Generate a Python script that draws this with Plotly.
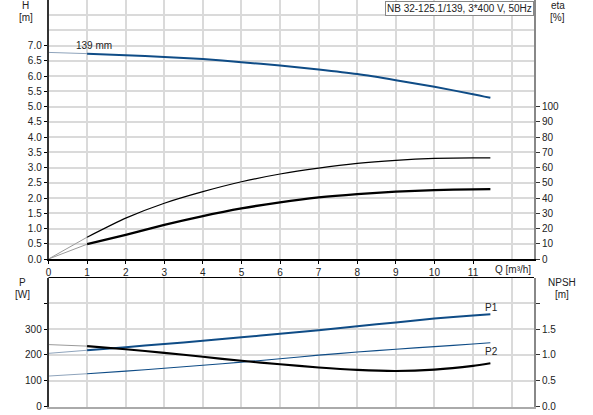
import plotly.graph_objects as go

W, H_PX = 593, 415

# ---------------- data ----------------
Q = [0, 1, 2, 3, 4, 5, 6, 7, 8, 9, 10, 11, 11.45]
H_head = [6.78, 6.74, 6.69, 6.63, 6.56, 6.46, 6.35, 6.22, 6.07, 5.87, 5.65, 5.41, 5.29]
eta_total = [0, 14.3, 26.8, 36.6, 44.2, 50.7, 55.8, 59.7, 62.8, 64.8, 66.0, 66.4, 66.4]
eta_pump = [0, 9.7, 15.8, 22.4, 28.2, 33.2, 37.2, 40.4, 42.6, 44.2, 45.2, 45.7, 45.8]
P1 = [206, 218, 230, 242, 255, 268, 282, 296, 311, 326, 341, 353, 358]
P2 = [118, 127, 137, 148, 160, 172, 185, 199, 211, 222, 232, 242, 247]
NPSH = [1.20, 1.17, 1.11, 1.04, 0.963, 0.885, 0.818, 0.757, 0.71, 0.688, 0.715, 0.788, 0.837]

x_ticks = list(range(0, 12))
H_ticks = [i * 0.5 for i in range(15)]
eta_ticks = list(range(0, 101, 10))
P_ticks = [0, 100, 200, 300, 400]
P_labels = ["0", "100", "200", "300", ""]
NPSH_ticks = [0, 0.5, 1.0, 1.5, 2.0]
NPSH_labels = ["0.0", "0.5", "1.0", "1.5", ""]

title_text = "NB 32-125.1/139, 3*400 V, 50Hz"
curve_label = "139 mm"

BLUE = "#0f4c86"
BLUE_LIGHT = "#8ea3bb"
BLACK = "#000000"
GREY_LIGHT = "#9a9a9a"
GRID = "#dadada"
TXT = "#222222"
FONT = "Liberation Sans, Arial, sans-serif"


def px(x):
    return x / W


def py(y):
    return 1 - y / H_PX


fig = go.Figure()


def add_curve(y, color, light, width, xa, ya):
    # faint start segment, then main segment
    fig.add_trace(go.Scatter(x=Q[:2], y=y[:2], mode="lines",
                             line=dict(color=light, width=1), xaxis=xa, yaxis=ya,
                             hoverinfo="skip", showlegend=False))
    fig.add_trace(go.Scatter(x=Q[1:], y=y[1:], mode="lines",
                             line=dict(color=color, width=width, shape="spline", smoothing=0.6),
                             xaxis=xa, yaxis=ya, showlegend=False))


add_curve(H_head, BLUE, BLUE_LIGHT, 2.0, "x", "y")
add_curve(eta_total, BLACK, GREY_LIGHT, 1.2, "x", "y2")
add_curve(eta_pump, BLACK, GREY_LIGHT, 2.3, "x", "y2")
add_curve(P1, BLUE, BLUE_LIGHT, 2.0, "x2", "y3")
add_curve(P2, BLUE, BLUE_LIGHT, 1.1, "x2", "y3")
add_curve(NPSH, BLACK, GREY_LIGHT, 2.1, "x2", "y4")

x_dom = [px(48.5), px(534)]
x_range = [0, 12.58]
top_dom = [py(259), 1.0]
bot_dom = [py(406.5), py(277.5)]

tickfont = dict(family=FONT, size=10, color=TXT)

fig.update_layout(
    width=W, height=H_PX,
    margin=dict(l=0, r=0, t=0, b=0, autoexpand=False),
    paper_bgcolor="white", plot_bgcolor="white",
    font=dict(family=FONT, size=10, color=TXT),
    showlegend=False,
    xaxis=dict(domain=x_dom, range=x_range, anchor="y", automargin=False,
               tickmode="array", tickvals=x_ticks, ticktext=[str(v) for v in x_ticks],
               ticks="outside", ticklen=3, tickcolor="#000", tickfont=tickfont,
               showgrid=True, gridcolor=GRID, gridwidth=2,
               minor=dict(tickvals=[12], showgrid=True, gridcolor=GRID, gridwidth=2, ticks=""),
               showline=True, linecolor="#000", linewidth=1.5, zeroline=False),
    yaxis=dict(domain=top_dom, range=[0, 8.5], anchor="x", automargin=False,
               tickmode="array", tickvals=H_ticks, ticktext=[f"{v:.1f}" for v in H_ticks],
               ticks="outside", ticklen=3, tickcolor="#000", tickfont=tickfont,
               showgrid=True, gridcolor=GRID, gridwidth=2,
               minor=dict(tickvals=[7.5, 8.0], showgrid=True, gridcolor=GRID, gridwidth=2, ticks=""),
               showline=True, linecolor="#333", linewidth=1.5, zeroline=False),
    yaxis2=dict(range=[0, 170], overlaying="y", side="right", anchor="x", automargin=False,
                tickmode="array", tickvals=eta_ticks, ticktext=[str(v) for v in eta_ticks],
                ticks="outside", ticklen=4, tickcolor="#333", tickfont=tickfont,
                showgrid=False, showline=True, linecolor="#888", linewidth=2, zeroline=False),
    xaxis2=dict(domain=x_dom, range=x_range, anchor="y3", automargin=False,
                tickmode="array", tickvals=x_ticks + [12], showticklabels=False, ticks="",
                showgrid=True, gridcolor=GRID, gridwidth=2,
                showline=True, linecolor="#aaaaaa", linewidth=2, zeroline=False),
    yaxis3=dict(domain=bot_dom, range=[0, 500], anchor="x2", automargin=False,
                tickmode="array", tickvals=P_ticks, ticktext=P_labels,
                ticks="outside", ticklen=3, tickcolor="#000", tickfont=tickfont,
                showgrid=True, gridcolor=GRID, gridwidth=2,
                showline=True, linecolor="#333", linewidth=1.5, zeroline=False),
    yaxis4=dict(range=[0, 2.5], overlaying="y3", side="right", anchor="x2", automargin=False,
                tickmode="array", tickvals=NPSH_ticks, ticktext=NPSH_labels,
                ticks="outside", ticklen=4, tickcolor="#333", tickfont=tickfont,
                showgrid=False, showline=True, linecolor="#888", linewidth=2, zeroline=False),
)

# top border of the lower panel
fig.add_shape(type="line", xref="paper", yref="paper",
              x0=x_dom[0], x1=x_dom[1], y0=bot_dom[1], y1=bot_dom[1],
              line=dict(color="#000", width=1))


def label(text, x, y, xanchor="center", **kw):
    fig.add_annotation(text=text, x=px(x), y=py(y), xref="paper", yref="paper",
                       xanchor=xanchor, yanchor="middle", showarrow=False,
                       font=dict(family=FONT, size=10, color=TXT), **kw)


label("H", 25.5, 5)
label("[m]", 25.5, 17)
label("eta", 557.5, 5)
label("[%]", 557.5, 17)
label("P", 22, 282)
label("[W]", 22, 294)
label("NPSH", 562, 282)
label("[m]", 562, 294)
label("Q [m³/h]", 493, 269, xanchor="left")
label(curve_label, 74, 46, xanchor="left")
label("P1", 483, 307.5, xanchor="left")
label("P2", 483, 351, xanchor="left")

fig.add_annotation(text=title_text, x=px(533.5), y=py(0.5), xref="paper", yref="paper",
                   xanchor="right", yanchor="top", showarrow=False,
                   font=dict(family=FONT, size=10, color=TXT),
                   bgcolor="white", bordercolor="#888", borderwidth=1, borderpad=1)

fig.write_html("out.html",
               config={"displayModeBar": False},
               post_script="document.body.style.margin='0';document.body.style.overflow='hidden';")
